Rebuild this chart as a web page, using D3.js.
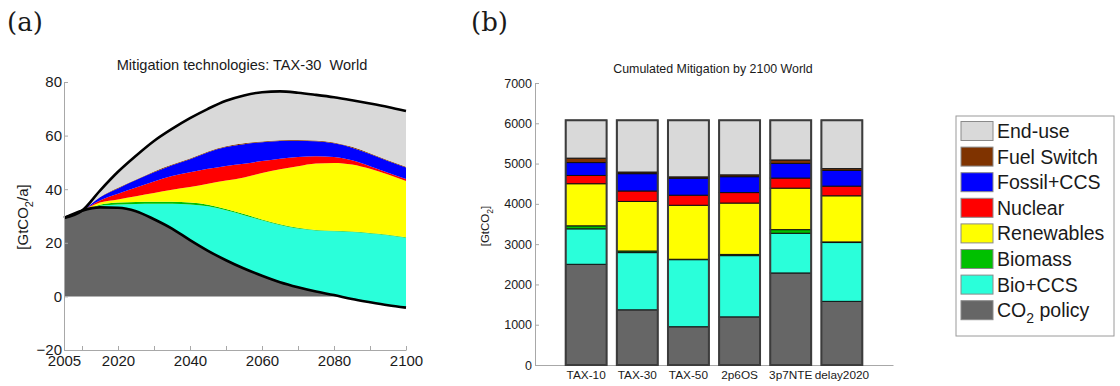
<!DOCTYPE html>
<html>
<head>
<meta charset="utf-8">
<script src="https://cdn.jsdelivr.net/npm/d3@7/dist/d3.min.js"></script>
<style>
  body { margin: 0; background: #fff; }
  svg { display: block; font-family: "Liberation Sans", Arial, sans-serif; }
</style>
</head>
<body>
<svg id="chart" width="1120" height="386"></svg>
<script>
// ---- panel (a): annual mitigation, TAX-30 World [GtCO2/a]
var years      = [2005, 2010, 2015, 2020, 2025, 2030, 2035, 2040, 2045, 2050, 2055, 2060, 2065, 2070, 2075, 2080, 2085, 2090, 2095, 2100];
var emissions  = [29.3, 32.0, 33.2, 33.1, 31.8, 28.8, 25.3, 21.0, 17.0, 13.5, 10.4, 7.7, 5.3, 3.4, 1.8, 0.5, -1.0, -2.2, -3.3, -4.2];
var bioCCS     = [0, 0, 0.6, 1.2, 2.7, 5.8, 9.3, 13.3, 16.6, 18.6, 19.9, 20.7, 21.3, 21.9, 22.8, 23.8, 25.0, 25.7, 26.1, 26.1];
var biomass    = [0, 0, 0.4, 0.7, 0.7, 0.7, 0.7, 0.7, 0.6, 0.5, 0.4, 0.3, 0.3, 0.3, 0.2, 0.2, 0.2, 0.2, 0.2, 0.2];
var renewables = [0, 0, 0.8, 1.2, 2.2, 3.3, 4.5, 5.8, 7.8, 10.6, 13.7, 17.3, 20.5, 23.0, 24.8, 25.3, 25.0, 23.9, 22.5, 21.0];
var nuclear    = [0, 0, 0.8, 2.1, 3.2, 4.3, 5.1, 5.5, 5.6, 5.5, 5.1, 4.5, 4.0, 3.4, 2.7, 2.2, 1.6, 1.0, 0.6, 0.7];
var fossilCCS  = [0, 0, 1.2, 2.0, 2.8, 3.4, 4.0, 4.9, 6.2, 7.0, 7.3, 7.0, 6.6, 6.1, 5.6, 5.1, 4.7, 4.5, 4.4, 4.3];
var fuelSwitch = [0, 0, 0.1, 0.2, 0.2, 0.3, 0.3, 0.3, 0.3, 0.3, 0.3, 0.3, 0.3, 0.3, 0.3, 0.3, 0.3, 0.3, 0.3, 0.3];
var endUse     = [0, 0, 2.4, 6.0, 8.9, 11.4, 13.3, 15.0, 15.9, 17.0, 17.9, 18.4, 18.2, 17.6, 17.0, 16.9, 17.4, 18.6, 19.9, 20.8];

var yTicksA      = [-20, 0, 20, 40, 60, 80];
var xTickMarksA  = [2010, 2020, 2030, 2040, 2050, 2060, 2070, 2080, 2090, 2100];
var xTickLabelsA = [2005, 2020, 2040, 2060, 2080, 2100];

// ---- panel (b): cumulated mitigation by 2100 [GtCO2]
var scenarios  = ['TAX-10', 'TAX-30', 'TAX-50', '2p6OS', '3p7NTE', 'delay2020'];
var cumPolicy  = [2500, 1370, 950, 1195, 2285, 1580];
var cumBioCCS  = [880, 1420, 1665, 1520, 985, 1460];
var cumBiomass = [75, 40, 10, 30, 90, 15];
var cumRenew   = [1045, 1230, 1340, 1275, 1030, 1145];
var cumNuclear = [205, 260, 250, 260, 250, 240];
var cumFossil  = [320, 430, 420, 395, 365, 390];
var cumFuel    = [110, 40, 35, 45, 85, 45];
var cumEndUse  = [940, 1285, 1405, 1355, 985, 1200];
var yTicksB    = [0, 1000, 2000, 3000, 4000, 5000, 6000, 7000];

// legend / stack order (bottom to top)
var keys   = ['policy', 'bioCCS', 'biomass', 'renewables', 'nuclear', 'fossilCCS', 'fuelSwitch', 'endUse'];
var labels = ['CO2 policy', 'Bio+CCS', 'Biomass', 'Renewables', 'Nuclear', 'Fossil+CCS', 'Fuel Switch', 'End-use'];
var colors = ['#666666', '#2affda', '#00c000', '#ffff00', '#ff0000', '#0000ff', '#7f3300', '#d9d9d9'];

var color = d3.scaleOrdinal().domain(keys).range(colors);
var svg = d3.select('#chart');
var axisGray = '#a8a8a8';
var textCol = '#1a1a1a';

function styleAxis(g, size) {
  g.select('.domain').attr('stroke', axisGray);
  g.selectAll('.tick line').attr('stroke', axisGray);
  g.selectAll('.tick text').attr('fill', textCol)
      .style('font-size', size + 'px').style('font-family', '"Liberation Sans", Arial, sans-serif');
}

// panel letters
svg.append('text').attr('x', 7).attr('y', 31).text('(a)')
    .style('font-family', '"DejaVu Serif", serif').style('font-size', '26px').attr('fill', textCol);
svg.append('text').attr('x', 471).attr('y', 31).text('(b)')
    .style('font-family', '"DejaVu Serif", serif').style('font-size', '26px').attr('fill', textCol);

// ================= panel (a)
var xA = d3.scaleLinear().domain([2005, 2100]).range([64, 406]);
var yA = d3.scaleLinear().domain([-20, 80]).range([350, 82]);

var rowsA = years.map(function(y, i) {
  return {
    year: y, policy: 0, bioCCS: bioCCS[i], biomass: biomass[i], renewables: renewables[i],
    nuclear: nuclear[i], fossilCCS: fossilCCS[i], fuelSwitch: fuelSwitch[i], endUse: endUse[i]
  };
});
var stackA = d3.stack().keys(keys.slice(1))(rowsA);

var curve = d3.curveMonotoneX;
var gA = svg.append('g');

// CO2 policy: between zero and the emission path
gA.append('path')
    .datum(years)
    .attr('fill', color('policy'))
    .attr('d', d3.area().curve(curve)
        .x(function(d) { return xA(d); })
        .y0(yA(0))
        .y1(function(d, i) { return yA(emissions[i]); }));

gA.selectAll('.layer')
    .data(stackA)
  .enter().append('path')
    .attr('class', 'layer')
    .attr('fill', function(s) { return color(s.key); })
    .attr('d', d3.area().curve(curve)
        .x(function(d) { return xA(d.data.year); })
        .y0(function(d, i) { return yA(emissions[i] + d[0]); })
        .y1(function(d, i) { return yA(emissions[i] + d[1]); }));

var topLine = stackA[stackA.length - 1];
gA.append('path')
    .datum(topLine)
    .attr('fill', 'none').attr('stroke', '#000').attr('stroke-width', 2.6)
    .attr('d', d3.line().curve(curve)
        .x(function(d) { return xA(d.data.year); })
        .y(function(d, i) { return yA(emissions[i] + d[1]); }));

gA.append('path')
    .datum(years)
    .attr('fill', 'none').attr('stroke', '#000').attr('stroke-width', 2.6)
    .attr('d', d3.line().curve(curve)
        .x(function(d) { return xA(d); })
        .y(function(d, i) { return yA(emissions[i]); }));

var ayA = svg.append('g').attr('transform', 'translate(' + xA(2005) + ',0)')
    .call(d3.axisLeft(yA).tickValues(yTicksA).tickSizeInner(-4).tickSizeOuter(0).tickPadding(2));
styleAxis(ayA, 15);

var axA = svg.append('g').attr('transform', 'translate(0,' + yA(-20) + ')')
    .call(d3.axisBottom(xA).tickValues(xTickMarksA).tickSizeInner(-4).tickSizeOuter(0).tickFormat(''));
styleAxis(axA, 15);
var axA2 = svg.append('g').attr('transform', 'translate(0,' + yA(-20) + ')')
    .call(d3.axisBottom(xA).tickValues(xTickLabelsA).tickSize(0).tickPadding(5).tickFormat(d3.format('d')));
axA2.select('.domain').remove();
styleAxis(axA2, 15);

svg.append('text').attr('x', 242).attr('y', 70).attr('text-anchor', 'middle')
    .attr('fill', textCol).style('font-size', '14.6px').style('white-space', 'pre')
    .text('Mitigation technologies: TAX-30  World');

var ylabA = svg.append('text').attr('transform', 'translate(28,217) rotate(-90)')
    .attr('text-anchor', 'middle').attr('fill', textCol).style('font-size', '15px');
ylabA.append('tspan').text('[GtCO');
ylabA.append('tspan').text('2').attr('dy', 5).style('font-size', '11px');
ylabA.append('tspan').text('/a]').attr('dy', -5);

// ================= panel (b)
var xB = d3.scaleBand().domain(scenarios).range([535, 893]).paddingInner(0.2).paddingOuter(0.6);
var yB = d3.scaleLinear().domain([0, 7000]).range([365, 83]);

var rowsB = scenarios.map(function(s, i) {
  return {
    scen: s, policy: cumPolicy[i], bioCCS: cumBioCCS[i], biomass: cumBiomass[i], renewables: cumRenew[i],
    nuclear: cumNuclear[i], fossilCCS: cumFossil[i], fuelSwitch: cumFuel[i], endUse: cumEndUse[i]
  };
});
var stackB = d3.stack().keys(keys)(rowsB);

var ayB = svg.append('g').attr('transform', 'translate(535,0)')
    .call(d3.axisLeft(yB).tickValues(yTicksB).tickSizeInner(-4).tickSizeOuter(0).tickPadding(3)
        .tickFormat(d3.format('d')));
styleAxis(ayB, 12.5);
var axB = svg.append('g').attr('transform', 'translate(0,365)')
    .call(d3.axisBottom(xB).tickSize(0).tickPadding(6));
styleAxis(axB, 11.8);

var gB = svg.append('g');
gB.selectAll('.seg')
    .data(stackB)
  .enter().append('g')
    .attr('fill', function(s) { return color(s.key); })
  .selectAll('rect')
    .data(function(s) { return s; })
  .enter().append('rect')
    .attr('x', function(d) { return xB(d.data.scen); })
    .attr('width', xB.bandwidth())
    .attr('y', function(d) { return yB(d[1]); })
    .attr('height', function(d) { return yB(d[0]) - yB(d[1]); })
    .attr('stroke', '#111').attr('stroke-width', 1);

gB.selectAll('.outline')
    .data(stackB[stackB.length - 1])
  .enter().append('rect')
    .attr('x', function(d) { return xB(d.data.scen); })
    .attr('width', xB.bandwidth())
    .attr('y', function(d) { return yB(d[1]); })
    .attr('height', function(d) { return yB(0) - yB(d[1]); })
    .attr('fill', 'none').attr('stroke', '#3c3c3c').attr('stroke-width', 2);

svg.append('text').attr('x', 713).attr('y', 73).attr('text-anchor', 'middle')
    .attr('fill', textCol).style('font-size', '12.4px')
    .text('Cumulated Mitigation by 2100 World');

var ylabB = svg.append('text').attr('transform', 'translate(489,226) rotate(-90)')
    .attr('text-anchor', 'middle').attr('fill', textCol).style('font-size', '11.5px');
ylabB.append('tspan').text('[GtCO');
ylabB.append('tspan').text('2').attr('dy', 4).style('font-size', '8.5px');
ylabB.append('tspan').text(']').attr('dy', -4);

// ================= legend
var leg = svg.append('g');
leg.append('rect').attr('x', 956).attr('y', 116).attr('width', 158).attr('height', 220)
    .attr('fill', '#fff').attr('stroke', '#9a9a9a').attr('stroke-width', 1);

var legKeys = keys.slice().reverse();
var legLabels = labels.slice().reverse();
var row = leg.selectAll('.row')
    .data(legKeys)
  .enter().append('g')
    .attr('transform', function(d, i) { return 'translate(961,' + (121.5 + i * 25.6) + ')'; });
row.append('rect').attr('width', 32).attr('height', 19)
    .attr('fill', function(d) { return color(d); })
    .attr('stroke', '#8a8a8a').attr('stroke-width', 1);
row.each(function(d, i) {
  var t = d3.select(this).append('text').attr('x', 36).attr('y', 16.5)
      .attr('fill', textCol).style('font-size', '19.5px');
  if (d === 'policy') {
    t.append('tspan').text('CO');
    t.append('tspan').text('2').attr('dy', 6).style('font-size', '14px');
    t.append('tspan').text(' policy').attr('dy', -6);
  } else {
    t.text(legLabels[i]);
  }
});
</script>
</body>
</html>
